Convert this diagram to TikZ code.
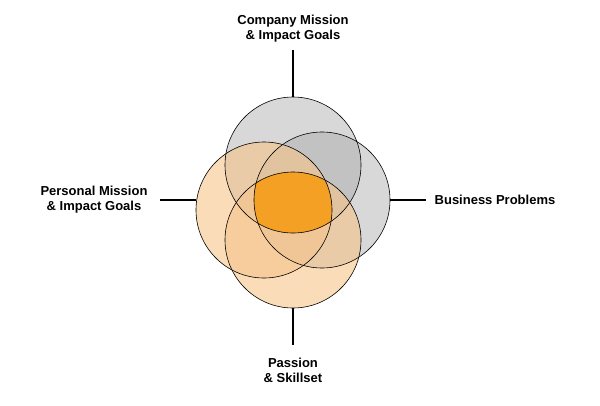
\documentclass[tikz,border=0pt]{standalone}
\usepackage{fontspec}
\setmainfont{Liberation Sans}
\definecolor{cgray}{HTML}{A8A8A8}
\definecolor{corange}{HTML}{F7C48A}
\definecolor{ccenter}{HTML}{F4A024}
\begin{document}
\begin{tikzpicture}[x=1pt,y=-1pt,
  lbl/.style={font=\bfseries\fontsize{13}{15}\selectfont,align=center,inner sep=2pt},
  ring/.style={draw=black,line width=0.6pt},
  conn/.style={line width=1.4pt}]
\useasboundingbox (0,0) rectangle (600,405);
\coordinate (ct) at (293,165);
\coordinate (cr) at (322,200);
\coordinate (cl) at (264,210);
\coordinate (cb) at (293,240);
\fill[cgray,fill opacity=0.45] (ct) circle (68);
\fill[cgray,fill opacity=0.45] (cr) circle (68);
\fill[corange,fill opacity=0.6] (cl) circle (68);
\fill[corange,fill opacity=0.6] (cb) circle (68);
\begin{scope}
\clip (ct) circle (68);
\clip (cr) circle (68);
\clip (cl) circle (68);
\fill[ccenter] (cb) circle (68);
\end{scope}
\draw[ring] (ct) circle (68);
\draw[ring] (cr) circle (68);
\draw[ring] (cl) circle (68);
\draw[ring] (cb) circle (68);
\node[lbl] (top) at (293,29) {Company Mission\\\& Impact Goals};
\node[lbl] (right) at (495,200) {Business Problems};
\node[lbl] (left) at (94,200) {Personal Mission\\\& Impact Goals};
\node[lbl] (bot) at (293,370) {Passion\\\& Skillset};
\coordinate (t1) at (293,50); \coordinate (t2) at (293,97);
\coordinate (r1) at (390,200); \coordinate (r2) at (426,200);
\coordinate (l1) at (160,200); \coordinate (l2) at (196,200);
\coordinate (b1) at (293,308); \coordinate (b2) at (293,345);
\draw[conn] (t1) -- (t2);
\draw[conn] (r1) -- (r2);
\draw[conn] (l1) -- (l2);
\draw[conn] (b1) -- (b2);
\end{tikzpicture}
\end{document}
